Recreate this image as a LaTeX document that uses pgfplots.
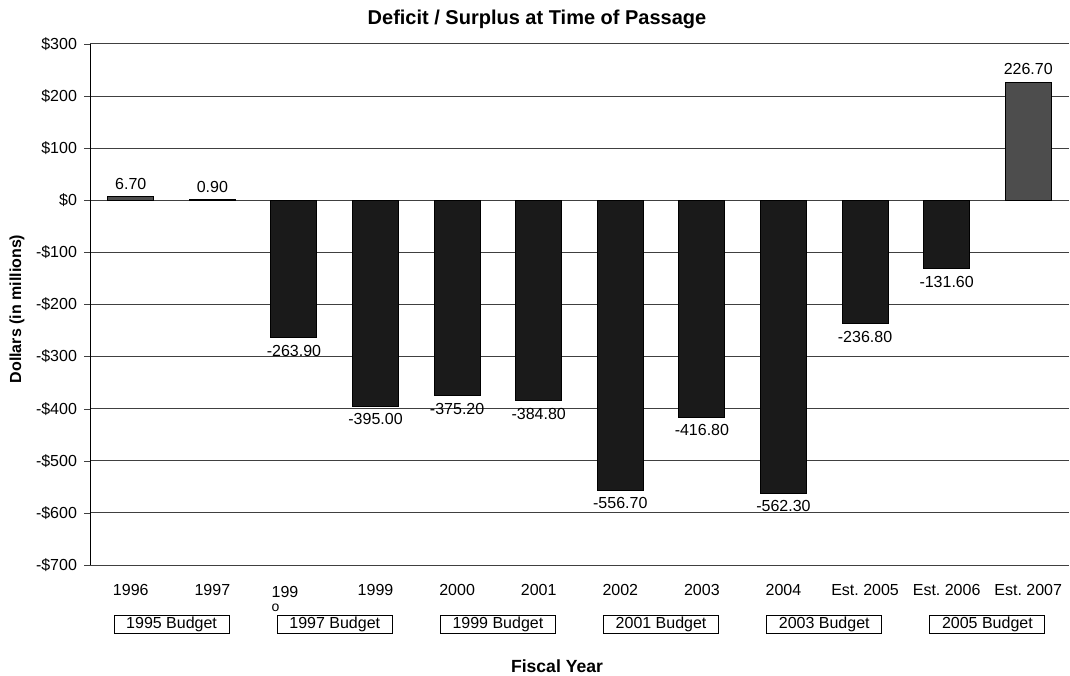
\documentclass[border=0pt]{standalone}
\usepackage{pgfplots}
\pgfplotsset{compat=1.18}
\usepackage{fontspec}
\setmainfont{Liberation Sans}
\definecolor{barblack}{HTML}{1A1A1A}
\definecolor{bargray}{HTML}{4D4D4D}
\definecolor{gridc}{HTML}{404040}
\begin{document}
\begin{tikzpicture}[x=1pt,y=1pt]
\path[use as bounding box] (0,0) rectangle (535,337.5);
\begin{axis}[
  at={(45pt,55pt)}, anchor=south west,
  width=489.5pt, height=260.5pt, scale only axis,
  xmin=-0.5, xmax=11.5, ymin=-700, ymax=300,
  axis y line=left, axis x line=bottom,
  axis line style={-},
  x axis line style={gridc},
  ytick={-700,-600,...,300},
  yticklabels={-\$700,-\$600,-\$500,-\$400,-\$300,-\$200,-\$100,\$0,\$100,\$200,\$300},
  ymajorgrids, grid style={gridc, line width=0.5pt},
  xtick={0,...,11},
  xticklabels={1996,1997,{\begin{tabular}{@{}l@{}}199\\[-2.5pt]{\scriptsize o}\end{tabular}\hspace*{9pt}},1999,2000,2001,2002,2003,2004,Est.\ 2005,Est.\ 2006,Est.\ 2007},
  x tick style={draw=none},
  y tick style={gridc},
  tick align=outside, major tick length=3pt,
  ticklabel style={font=\fontsize{8}{9.6}\selectfont},
  xticklabel style={anchor=north, yshift=-3pt},
  ybar, bar width=23pt,
  nodes near coords={\pgfmathprintnumber[fixed,zerofill,precision=2,assume math mode=true]{\pgfplotspointmeta}},
  nodes near coords align=vertical,
  every node near coord/.append style={font=\fontsize{8}{9.6}\selectfont, text=black},
  clip=false,
]
\addplot[fill=bargray, draw=black, line width=0.5pt, bar shift=0pt] coordinates {(0,6.7) (1,0.9) (11,226.7)};
\addplot[fill=barblack, draw=black, line width=0.5pt, bar shift=0pt] coordinates {(2,-263.9) (3,-395.0) (4,-375.2) (5,-384.8) (6,-556.7) (7,-416.8) (8,-562.3) (9,-236.8) (10,-131.6)};
\foreach \x/\lab in {0.5/1995, 2.5/1997, 4.5/1999, 6.5/2001, 8.5/2003, 10.5/2005} {
  \edef\temp{\noexpand\node[draw=black, line width=0.5pt, minimum width=57.5pt, minimum height=9pt, inner sep=0pt, font=\noexpand\fontsize{8}{9.6}\noexpand\selectfont, yshift=-29.5pt] at (axis cs:\x,-700) {\lab\space Budget};}
  \temp
}
\end{axis}
\node[font=\bfseries\fontsize{8.8}{10}\selectfont] at (278.5,4.6) {Fiscal Year};
\node[font=\bfseries\fontsize{10}{12}\selectfont] at (268.5,328) {Deficit / Surplus at Time of Passage};
\node[font=\bfseries\fontsize{8}{10}\selectfont, rotate=90] at (8.5,183) {Dollars (in millions)};
\end{tikzpicture}
\end{document}
